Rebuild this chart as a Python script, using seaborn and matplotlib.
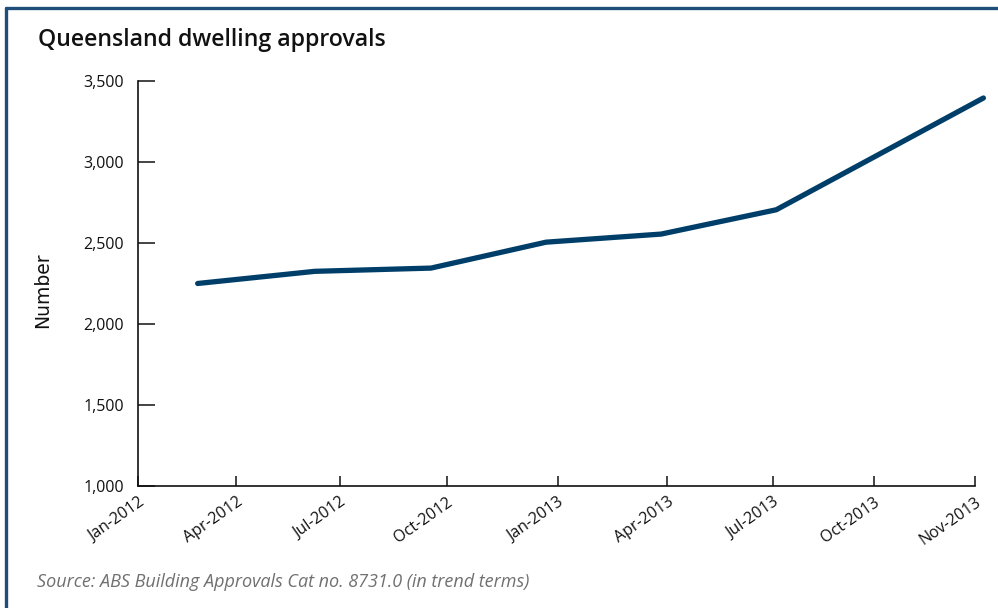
import matplotlib
matplotlib.use("Agg")
import matplotlib.pyplot as plt
import seaborn as sns
import pandas as pd
from matplotlib.lines import Line2D
from matplotlib.ticker import FuncFormatter

# Quarterly trend series (position on the tick scale, approvals)
period_pos = [0.57, 1.69, 2.80, 3.90, 5.00, 6.10, 8.08]
approvals = [2250, 2325, 2345, 2505, 2555, 2705, 3395]

tick_labels = ["Jan-2012", "Apr-2012", "Jul-2012", "Oct-2012", "Jan-2013",
               "Apr-2013", "Jul-2013", "Oct-2013", "Nov-2013"]
y_ticks = [1000, 1500, 2000, 2500, 3000, 3500]

df = pd.DataFrame({"pos": period_pos, "approvals": approvals})

sns.set_theme(style="white")
plt.rcParams["font.family"] = ["Open Sans", "DejaVu Sans"]

fig = plt.figure(figsize=(9.98, 6.08), dpi=100)
ax = fig.add_axes([0.1383, 0.2007, 0.977 - 0.1383, 0.8668 - 0.2007])

sns.lineplot(data=df, x="pos", y="approvals", ax=ax, color="#003e6a",
             linewidth=3.8, solid_capstyle="round", solid_joinstyle="round",
             clip_on=False)

# tick marks sit slightly unevenly along the date axis
tick_pos = [0, 0.94, 1.93, 2.95, 4.01, 5.06, 6.07, 7.03, 8.0]
ax.set_xlim(0, 8)
ax.set_ylim(1000, 3500)
ax.set_xticks(tick_pos)
ax.set_xticklabels(tick_labels, rotation=35, ha="right",
                   rotation_mode="anchor", fontsize=11.5, color="#111111")
ax.set_yticks(y_ticks)
ax.yaxis.set_major_formatter(FuncFormatter(lambda v, _: f"{int(v):,}"))
for lab in ax.get_yticklabels():
    lab.set_fontsize(11.5)
    lab.set_color("#111111")

ax.tick_params(axis="y", direction="in", length=12, width=1.1, pad=10,
               colors="#111111", left=True)
ax.tick_params(axis="x", direction="in", length=7, width=1.1, pad=6,
               colors="#111111", bottom=True)
for side in ["top", "right"]:
    ax.spines[side].set_visible(False)
for side in ["left", "bottom"]:
    ax.spines[side].set_color("#111111")
    ax.spines[side].set_linewidth(1.2)

ax.set_xlabel("")
ax.set_ylabel("")
fig.text(0.043, 0.523, "Number", rotation=90, ha="center", va="center",
         fontsize=13.5, family=["DejaVu Sans"], color="#111111")

fig.text(0.038, 0.934, "Queensland dwelling approvals", ha="left",
         va="center", fontsize=16.7, fontweight="semibold", color="#111111")
fig.text(0.037, 0.042,
         "Source: ABS Building Approvals Cat no. 8731.0 (in trend terms)",
         ha="left", va="center", fontsize=13, style="italic", color="#707070")

# Frame lines along the top and left edges
border = "#1f4e79"
fig.add_artist(Line2D([0.0065, 1.0], [0.9875, 0.9875], color=border,
                      linewidth=2.4, transform=fig.transFigure))
fig.add_artist(Line2D([0.0065, 0.0065], [0.0, 0.9875], color=border,
                      linewidth=2.4, transform=fig.transFigure))

fig.savefig("out.png", dpi=100, facecolor="white")
